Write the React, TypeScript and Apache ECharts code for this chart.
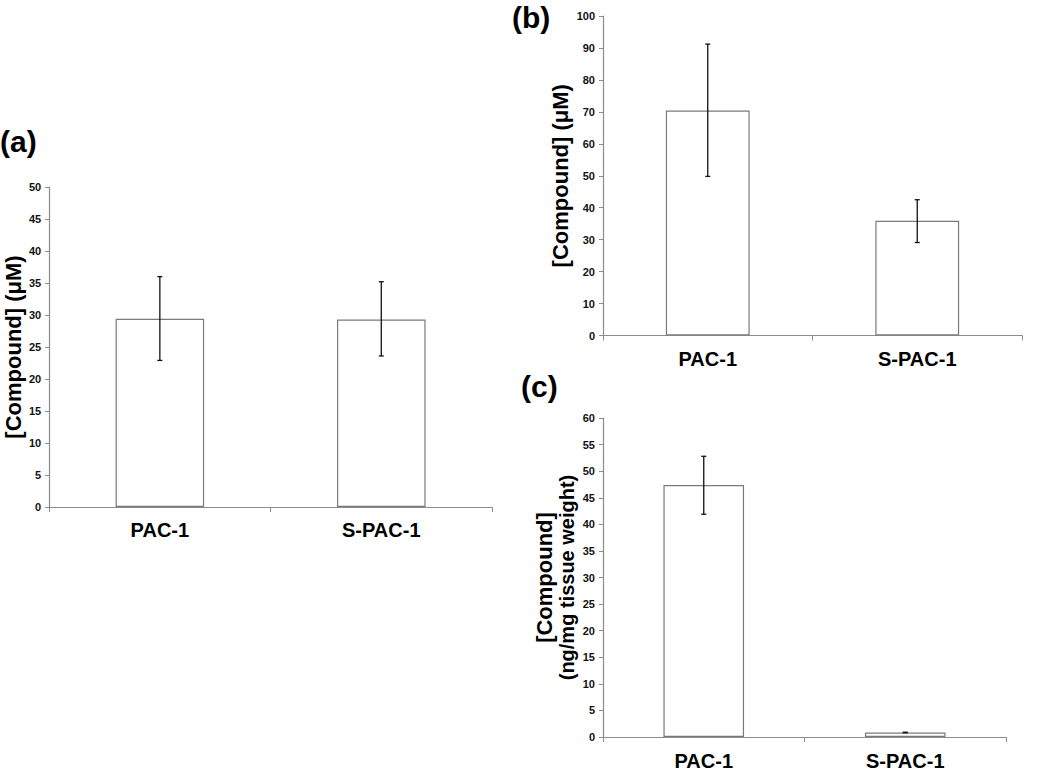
import React, { useEffect, useRef } from "react";
import * as echarts from "echarts";

const categories = ["PAC-1", "S-PAC-1"];

// Panel (a)
const aValues = [29.4, 29.3];
const aErrLow = [22.9, 23.6];
const aErrHigh = [36.0, 35.2];

// Panel (b)
const bValues = [70.4, 35.9];
const bErrLow = [49.8, 29.1];
const bErrHigh = [91.2, 42.5];

// Panel (c)
const cValues = [47.4, 0.85];
const cErrLow = [41.9, 0.8];
const cErrHigh = [52.8, 0.9];

const FONT = "'Liberation Sans', Arial, Helvetica, sans-serif";
const AXIS_GRAY = "#8c8c8c";

function errorData(low: number[], high: number[]) {
  return low.map((l, i) => [i, l, high[i]]);
}

function errRender(params: any, api: any) {
  const idx = api.value(0);
  const lo = api.coord([idx, api.value(1)]);
  const hi = api.coord([idx, api.value(2)]);
  const half = 2.5;
  const style = { stroke: "#111", lineWidth: 1.3 };
  return {
    type: "group",
    children: [
      { type: "line", shape: { x1: lo[0], y1: lo[1], x2: hi[0], y2: hi[1] }, style },
      { type: "line", shape: { x1: hi[0] - half, y1: hi[1], x2: hi[0] + half, y2: hi[1] }, style },
      { type: "line", shape: { x1: lo[0] - half, y1: lo[1], x2: lo[0] + half, y2: lo[1] }, style },
    ],
  };
}

function xAxis(gridIndex: number, margin: number) {
  return {
    type: "category",
    gridIndex,
    data: categories,
    boundaryGap: true,
    axisLine: { lineStyle: { color: AXIS_GRAY, width: 1.2 } },
    axisTick: { show: true, length: 5, alignWithLabel: false, lineStyle: { color: AXIS_GRAY } },
    axisLabel: {
      margin,
      color: "#000",
      fontFamily: FONT,
      fontWeight: "bold",
      fontSize: 20,
    },
  };
}

function yAxis(gridIndex: number, max: number, interval: number, name: string, nameGap: number) {
  return {
    type: "value",
    gridIndex,
    min: 0,
    max,
    interval,
    name,
    nameLocation: "middle",
    nameRotate: 90,
    nameGap,
    nameTextStyle: {
      color: "#000",
      fontFamily: FONT,
      fontWeight: "bold",
      fontSize: 22,
      lineHeight: 24,
      rich: {
        l1: { fontFamily: FONT, fontWeight: "bold", fontSize: 22, lineHeight: 23, color: "#000" },
        l2: { fontFamily: FONT, fontWeight: "bold", fontSize: 20, lineHeight: 23, color: "#000" },
      },
    },
    splitLine: { show: false },
    axisLine: { show: true, lineStyle: { color: AXIS_GRAY, width: 1.2 } },
    axisTick: { show: true, length: 4, inside: false, lineStyle: { color: AXIS_GRAY } },
    axisLabel: {
      margin: 8,
      color: "#111",
      fontFamily: FONT,
      fontWeight: "bold",
      fontSize: 11,
    },
  };
}

function barSeries(idx: number, values: number[]) {
  return {
    type: "bar",
    xAxisIndex: idx,
    yAxisIndex: idx,
    data: values,
    barWidth: "40%",
    itemStyle: { color: "#ffffff", borderColor: "#7a7a7a", borderWidth: 1.2 },
    silent: true,
  };
}

function errSeries(idx: number, low: number[], high: number[]) {
  return {
    type: "custom",
    xAxisIndex: idx,
    yAxisIndex: idx,
    data: errorData(low, high),
    renderItem: errRender,
    encode: { x: 0, y: [1, 2] },
    z: 10,
    silent: true,
  };
}

export default function App() {
  const ref = useRef<HTMLDivElement>(null);
  useEffect(() => {
    if (!ref.current) return;
    const chart = echarts.init(ref.current, null, { renderer: "svg" });
    chart.setOption({
      animation: false,
      backgroundColor: "#ffffff",
      grid: [
        { left: 44, top: 187, width: 448, height: 320 },
        { left: 603, top: 16, width: 419, height: 319.5 },
        { left: 603, top: 418, width: 403, height: 320 },
      ],
      xAxis: [xAxis(0, 13), xAxis(1, 13), xAxis(2, 14)],
      yAxis: [
        yAxis(0, 50, 5, "[Compound] (μM)", 24),
        yAxis(1, 100, 10, "[Compound] (μM)", 21),
        yAxis(2, 60, 5, "{l1|[Compound]}\n{l2|(ng/mg tissue weight)}", 17),
      ],
      series: [
        barSeries(0, aValues),
        errSeries(0, aErrLow, aErrHigh),
        barSeries(1, bValues),
        errSeries(1, bErrLow, bErrHigh),
        barSeries(2, cValues),
        errSeries(2, cErrLow, cErrHigh),
      ],
      graphic: [
        { type: "text", left: 0, top: 126, style: { text: "(a)", fontFamily: FONT, fontWeight: "bold", fontSize: 30, fill: "#000" } },
        { type: "text", left: 512, top: 2, style: { text: "(b)", fontFamily: FONT, fontWeight: "bold", fontSize: 30, fill: "#000" } },
        { type: "text", left: 521, top: 371, style: { text: "(c)", fontFamily: FONT, fontWeight: "bold", fontSize: 30, fill: "#000" } },
      ],
    });
    return () => chart.dispose();
  }, []);
  return (
    <div
      ref={ref}
      style={{ position: "fixed", left: 0, top: 0, width: 1050, height: 771, background: "#fff" }}
    />
  );
}
